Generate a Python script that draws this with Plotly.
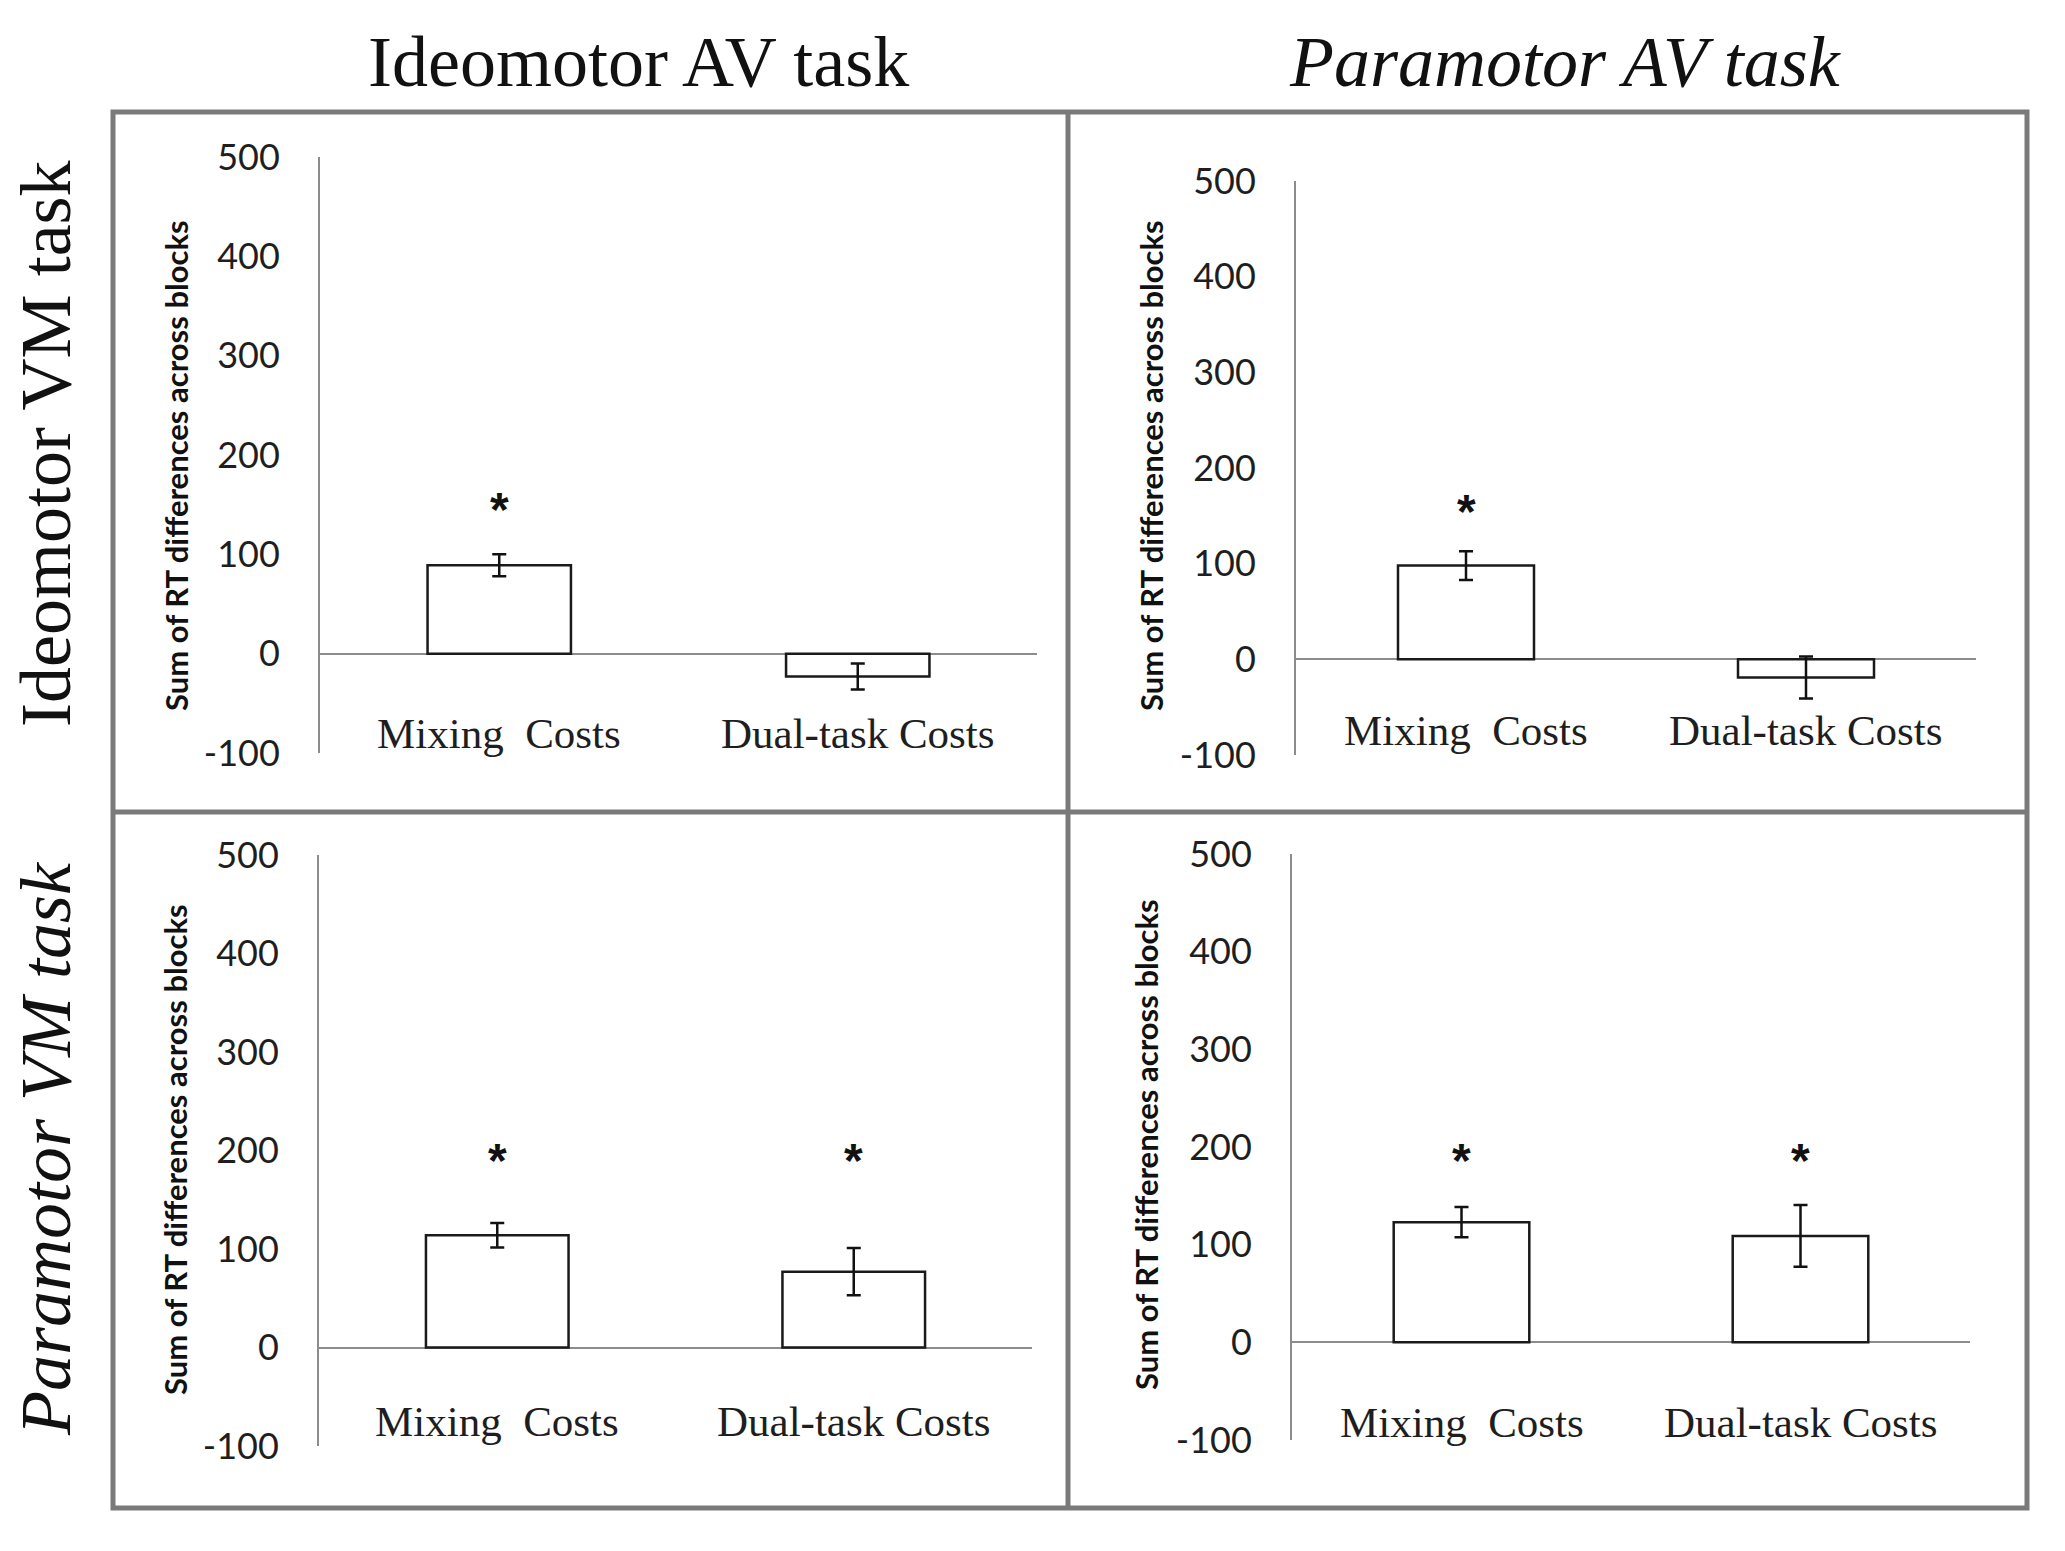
import plotly.graph_objects as go

# ---------------- data ----------------
categories = ["Mixing Costs", "Dual-task Costs"]
col_titles = ["Ideomotor AV task", "Paramotor AV task"]
row_titles = ["Ideomotor VM task", "Paramotor VM task"]
y_title = "Sum of RT differences across blocks"
tick_vals = [-100, 0, 100, 200, 300, 400, 500]
tick_text = ["-100", "0", "100", "200", "300", "400", "500"]

# panel: top-left (Ideomotor VM / Ideomotor AV)
tl_values = [89, -23]
tl_errors = [11, 13]
tl_stars = [151, None]
# panel: top-right (Ideomotor VM / Paramotor AV)
tr_values = [98, -19]
tr_errors = [15, 22]
tr_stars = [161, None]
# panel: bottom-left (Paramotor VM / Ideomotor AV)
bl_values = [114, 77]
bl_errors = [12.5, 24]
bl_stars = [196, 196]
# panel: bottom-right (Paramotor VM / Paramotor AV)
br_values = [123, 109]
br_errors = [15.5, 31.5]
br_stars = [192, 192]

# ---------------- layout helpers ----------------
W, H = 2065, 1551


def fx(p):
    return p / W


def fy(p):
    return 1 - p / H


panels = [
    dict(vals=tl_values, errs=tl_errors, stars=tl_stars,
         box=(320, 1037, 157, 753), ytitle=(176, 466), label_y=-80),
    dict(vals=tr_values, errs=tr_errors, stars=tr_stars,
         box=(1296, 1976, 181, 755), ytitle=(1151, 466), label_y=-74),
    dict(vals=bl_values, errs=bl_errors, stars=bl_stars,
         box=(319, 1032, 855, 1446), ytitle=(175, 1150), label_y=-75),
    dict(vals=br_values, errs=br_errors, stars=br_stars,
         box=(1292, 1970, 854, 1440), ytitle=(1146, 1145), label_y=-82),
]

AXIS_GRAY = "#8c8c8c"
TEXT = "#1e1e1e"
SERIF = "Liberation Serif, Times New Roman, serif"
SANS = "Lato, Liberation Sans, sans-serif"

fig = go.Figure()
annotations = []
layout_axes = {}

for i, p in enumerate(panels, start=1):
    xa = "x" if i == 1 else f"x{i}"
    ya = "y" if i == 1 else f"y{i}"
    x0, x1, y0, y1 = p["box"]
    fig.add_trace(go.Bar(
        x=[0, 1], y=p["vals"], width=0.4,
        marker=dict(color="white", line=dict(color="#1a1a1a", width=2.5)),
        error_y=dict(type="data", array=p["errs"], visible=True,
                     color="#111111", thickness=2.5, width=7),
        xaxis=xa, yaxis=ya, showlegend=False, hoverinfo="skip",
    ))
    xkey = "xaxis" if i == 1 else f"xaxis{i}"
    ykey = "yaxis" if i == 1 else f"yaxis{i}"
    layout_axes[xkey] = dict(
        domain=[fx(x0), fx(x1)], range=[-0.5, 1.5], anchor=ya,
        showline=False, showgrid=False, zeroline=False,
        showticklabels=False, ticks="", fixedrange=True,
    )
    layout_axes[ykey] = dict(
        domain=[fy(y1), fy(y0)], range=[-100, 500], anchor=xa,
        tickvals=tick_vals, ticktext=tick_text, ticks="",
        ticklabelstandoff=31,
        tickfont=dict(family=SANS, size=36, color=TEXT),
        showline=True, linecolor=AXIS_GRAY, linewidth=2,
        showgrid=False, zeroline=True, zerolinecolor=AXIS_GRAY,
        zerolinewidth=2, fixedrange=True,
    )
    # category labels (Excel-like wide word spacing)
    for k, c in enumerate(categories):
        annotations.append(dict(
            x=k, y=p["label_y"], xref=xa, yref=ya,
            text=c.replace(" ", "&nbsp; ") if k == 0 else c,
            showarrow=False, xanchor="center", yanchor="middle",
            font=dict(family=SERIF, size=43, color=TEXT),
        ))
    # significance asterisks
    for k, s in enumerate(p["stars"]):
        if s is not None:
            annotations.append(dict(
                x=k, y=s, xref=xa, yref=ya, text="<b>*</b>", showarrow=False,
                xanchor="center", yanchor="middle", yshift=-6,
                font=dict(family="Liberation Sans, Arial, sans-serif",
                          size=48, color="#111111"),
            ))
    # y-axis title
    tx, ty = p["ytitle"]
    annotations.append(dict(
        x=fx(tx), y=fy(ty), xref="paper", yref="paper",
        text=f"<b>{y_title}</b>", textangle=-90, showarrow=False,
        xanchor="center", yanchor="middle",
        font=dict(family=SANS, size=31, color="#111111"),
    ))

# column titles
for t, cx, it in zip(col_titles, [638, 1565], [False, True]):
    annotations.append(dict(
        x=fx(cx), y=fy(62), xref="paper", yref="paper",
        text=f"<i>{t}</i>" if it else t, showarrow=False,
        xanchor="center", yanchor="middle",
        font=dict(family=SERIF, size=72, color="#111111"),
    ))
# row titles
for t, cy, it in zip(row_titles, [444, 1149], [False, True]):
    annotations.append(dict(
        x=fx(46), y=fy(cy), xref="paper", yref="paper",
        text=f"<i>{t}</i>" if it else t, textangle=-90, showarrow=False,
        xanchor="center", yanchor="middle",
        font=dict(family=SERIF, size=72, color="#111111"),
    ))

FRAME = "#7a7a7a"
shapes = [
    dict(type="rect", xref="paper", yref="paper",
         x0=fx(113), x1=fx(2027), y0=fy(1508), y1=fy(112),
         line=dict(color=FRAME, width=5), fillcolor="rgba(0,0,0,0)"),
    dict(type="line", xref="paper", yref="paper",
         x0=fx(1068), x1=fx(1068), y0=fy(1508), y1=fy(112),
         line=dict(color=FRAME, width=5)),
    dict(type="line", xref="paper", yref="paper",
         x0=fx(113), x1=fx(2027), y0=fy(812), y1=fy(812),
         line=dict(color=FRAME, width=5)),
]

fig.update_layout(
    width=W, height=H,
    margin=dict(l=0, r=0, t=0, b=0, autoexpand=False),
    paper_bgcolor="white", plot_bgcolor="white",
    annotations=annotations, shapes=shapes,
    bargap=0.6,
    **layout_axes,
)

fig.write_html(
    "out.html",
    config={"displayModeBar": False},
    post_script="document.body.style.margin='0';"
                "document.body.style.overflow='hidden';",
)
